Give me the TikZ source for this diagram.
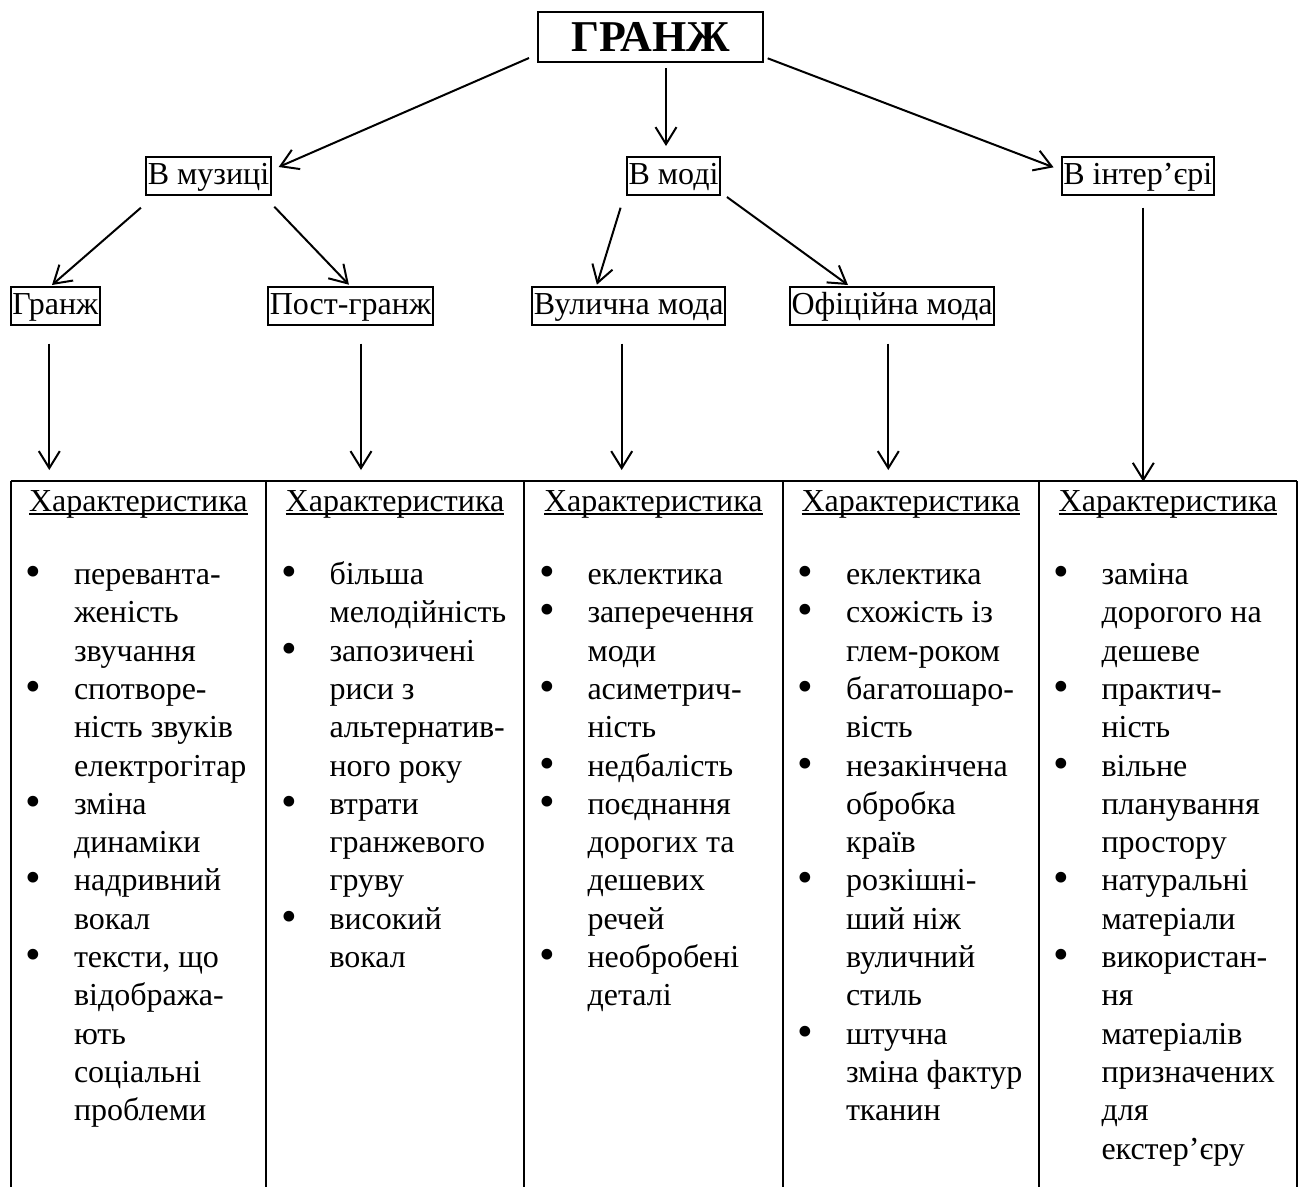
\documentclass[tikz,border=0pt]{standalone}
\usepackage{fontspec}
\usepackage{graphicx}
\setmainfont{Liberation Serif}
\usetikzlibrary{arrows.meta,positioning}

\newcommand{\undl}[1]{\setbox0\hbox{#1}\rlap{\rule[-3.6pt]{\wd0}{1.8pt}}\box0}
\newcommand{\bul}{\makebox[48.5pt][l]{\smash{\raisebox{-2pt}{\scalebox{1.4}{\textbullet}}}}}
\newcommand{\ind}{\hspace*{48.5pt}}
\newcommand{\fst}{\rule{0pt}{30pt}}

\begin{document}
\begin{tikzpicture}[x=1pt, y=-1pt, line width=2pt,
  top node/.style={draw, line width=2pt, font=\fontsize{44}{50}\selectfont\bfseries, minimum width=225pt, minimum height=50pt, inner sep=0pt},
  main node/.style={draw, line width=2pt, font=\fontsize{32}{38.3}\selectfont, inner xsep=1.5pt, inner ysep=2pt, text height=25pt, text depth=9pt},
  head node/.style={font=\fontsize{32}{38.3}\selectfont, anchor=base, inner sep=0pt},
  list node/.style={font=\fontsize{32}{38.3}\selectfont, align=left, anchor=north west, inner sep=0pt}]
\useasboundingbox (0,0) rectangle (1301,1187);

\node[top node] (grunge) at (650.8,36.7) {ГРАНЖ};
\node[main node] (music) at (208.5,176) {В музиці};
\node[main node] (mode) at (673.5,176) {В моді};
\node[main node] (inter) at (1137.8,176) {В інтер’єрі};
\node[main node] (gr) at (55.3,306) {Гранж};
\node[main node] (post) at (350.5,306) {Пост-гранж};
\node[main node] (street) at (628.7,306) {Вулична мода};
\node[main node] (offic) at (892,306) {Офіційна мода};

% table
\coordinate (t1) at (49.3,470);
\coordinate (t2) at (361,470);
\coordinate (t3) at (621.7,470);
\coordinate (t4) at (888.3,470);
\coordinate (t5) at (1143.3,481.7);
\draw (10.5,481) -- (1297,481);
\draw (10.5,481) -- (10.5,1187);
\draw (266,481) -- (266,1187);
\draw (524,481) -- (524,1187);
\draw (782.5,481) -- (782.5,1187);
\draw (1039,481) -- (1039,1187);
\draw (1297,481) -- (1297,1187);

\begin{scope}[every edge/.style={draw=black, line width=2pt, -{Straight Barb[length=17pt,width=21pt]}}]
\draw ([shift={(-8.3,-4.7)}]grunge.south west) edge ([shift={(7,-9)}]music.east);
\draw ([shift={(15.2,5.3)}]grunge.south) edge ([shift={(-7.5,-10)}]mode.north);
\draw ([shift={(3.4,-4.4)}]grunge.south east) edge ([shift={(-7.3,-8.7)}]inter.west);
\draw ([shift={(-4.4,11.7)}]music.south west) edge ([shift={(-3.3,-1)}]gr.north);
\draw ([shift={(2.6,10.7)}]music.south east) edge ([shift={(-1.6,-1.3)}]post.north);
\draw ([shift={(-5.5,11.7)}]mode.south west) edge ([shift={(-31.8,-1.3)}]street.north);
\draw ([shift={(6,1)}]mode.south east) edge ([shift={(-44,-1)}]offic.north);
\draw (t1 |- gr.south) edge[shorten <=17.7pt] (t1);
\draw (t2 |- post.south) edge[shorten <=17.7pt] (t2);
\draw (t3 |- street.south) edge[shorten <=17.7pt] (t3);
\draw (t4 |- offic.south) edge[shorten <=17.7pt] (t4);
\draw (t5 |- inter.south) edge[shorten <=11.7pt] (t5);
\end{scope}

\begin{scope}
\node[head node] (h1) at (138.3,511.5) {\undl{Характеристика}};
\node[head node] (h2) at (395,511.5) {\undl{Характеристика}};
\node[head node] (h3) at (653.3,511.5) {\undl{Характеристика}};
\node[head node] (h4) at (910.8,511.5) {\undl{Характеристика}};
\node[head node] (h5) at (1168,511.5) {\undl{Характеристика}};
\end{scope}

\node[list node] (l1) at (24.5,553.5) {\fst\bul переванта-\\\ind женість\\\ind звучання\\\bul спотворе-\\\ind ність звуків\\\ind електрогітар\\\bul зміна\\\ind динаміки\\\bul надривний\\\ind вокал\\\bul тексти, що\\\ind відобража-\\\ind ють\\\ind соціальні\\\ind проблеми};
\node[list node] (l2) at (280,553.5) {\fst\bul більша\\\ind мелодійність\\\bul запозичені\\\ind риси з\\\ind альтернатив-\\\ind ного року\\\bul втрати\\\ind гранжевого\\\ind груву\\\bul високий\\\ind вокал};
\node[list node] (l3) at (538,553.5) {\fst\bul еклектика\\\bul заперечення\\\ind моди\\\bul асиметрич-\\\ind ність\\\bul недбалість\\\bul поєднання\\\ind дорогих та\\\ind дешевих\\\ind речей\\\bul необробені\\\ind деталі};
\node[list node] (l4) at (796.5,553.5) {\fst\bul еклектика\\\bul схожість із\\\ind глем-роком\\\bul багатошаро-\\\ind вість\\\bul незакінчена\\\ind обробка\\\ind країв\\\bul розкішні-\\\ind ший ніж\\\ind вуличний\\\ind стиль\\\bul штучна\\\ind зміна фактур\\\ind тканин};
\node[list node] (l5) at (1052,553.5) {\fst\bul заміна\\\ind дорогого на\\\ind дешеве\\\bul практич-\\\ind ність\\\bul вільне\\\ind планування\\\ind простору\\\bul натуральні\\\ind матеріали\\\bul використан-\\\ind ня\\\ind матеріалів\\\ind призначених\\\ind для\\\ind екстер’єру};
\end{tikzpicture}
\end{document}
